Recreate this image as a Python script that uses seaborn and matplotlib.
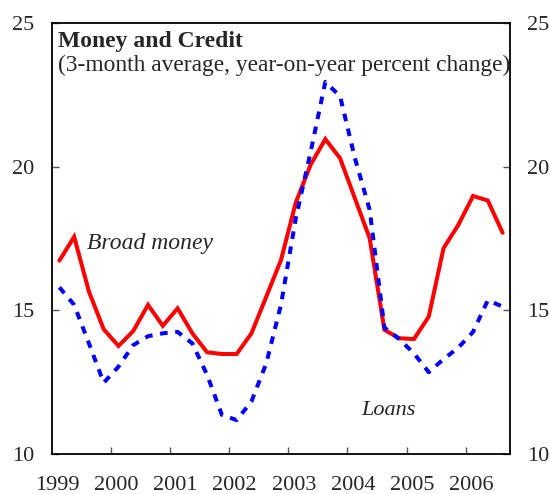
import numpy as np
import pandas as pd
import matplotlib
matplotlib.use("Agg")
import matplotlib.pyplot as plt
import seaborn as sns

# Quarterly data, 1999Q1 - 2006Q3
quarters = pd.period_range("1999Q1", "2006Q3", freq="Q")
broad_money = [16.73, 17.56, 15.65, 14.34, 13.76, 14.28, 15.19, 14.46,
               15.07, 14.20, 13.54, 13.48, 13.48, 14.20, 15.47, 16.75,
               18.75, 20.06, 20.96, 20.29, 18.90, 17.51, 14.32, 14.03,
               14.00, 14.78, 17.16, 17.97, 18.98, 18.82, 17.70]
loans = [15.80, 15.19, 13.85, 12.48, 13.04, 13.79, 14.10, 14.20,
         14.25, 13.85, 12.75, 11.36, 11.18, 11.83, 13.15, 15.20,
         18.20, 20.50, 22.95, 22.45, 20.30, 18.50, 14.40, 14.00,
         13.50, 12.85, 13.30, 13.70, 14.25, 15.35, 15.13]
year_labels = ["1999", "2000", "2001", "2002", "2003", "2004", "2005", "2006"]
y_ticks = [10, 15, 20, 25]

xpos = np.array([q.year + (q.quarter - 0.5) / 4 for q in quarters])
df = pd.DataFrame({"x": xpos, "Broad money": broad_money, "Loans": loans})

sns.set_style("white")
plt.rcParams["font.family"] = ["Liberation Serif", "DejaVu Serif"]

fig = plt.figure(figsize=(5.5, 4.94), dpi=100)
ax = fig.add_axes([52 / 550, 1 - 454 / 494, 458 / 550, 431 / 494])

sns.lineplot(data=df, x="x", y="Broad money", ax=ax, color="#FF0000",
             linewidth=2.9, solid_joinstyle="miter")
sns.lineplot(data=df, x="x", y="Loans", ax=ax, color="#0000FF",
             linewidth=2.9, linestyle=(0, (1.9, 1.9)), dash_capstyle="butt")

ax.set_xlim(1999.0, 2006.75)
ax.set_ylim(10, 25)
ax.set_xlabel("")
ax.set_ylabel("")

# x tick marks at year boundaries, labels near year start
ax.set_xticks([int(y) for y in year_labels[1:]], minor=True)
ax.set_xticks([int(y) + 0.09 for y in year_labels])
ax.set_xticklabels(year_labels)
ax.tick_params(axis="x", which="major", length=0, pad=15.5, labelsize=16)
ax.tick_params(axis="x", which="minor", length=5, width=1, direction="in",
               bottom=True, color="#555555")

ax.set_yticks(y_ticks)
ax.tick_params(axis="y", which="major", direction="in", length=5, width=1,
               left=True, right=True, labelleft=True, labelright=True,
               pad=12.5, labelsize=16, color="#555555")

for s in ax.spines.values():
    s.set_visible(True)
    s.set_color("black")
    s.set_linewidth(1.3)

fig.text(58 / 550, 1 - 46.5 / 494, "Money and Credit", fontsize=17,
         fontweight="bold", va="baseline", ha="left")
fig.text(58 / 550, 1 - 71 / 494, "(3-month average, year-on-year percent change)",
         fontsize=16.8, va="baseline", ha="left")
fig.text(87 / 550, 1 - 249 / 494, "Broad money", fontsize=17,
         style="italic", va="baseline", ha="left")
fig.text(361 / 550, 1 - 415 / 494, "Loans", fontsize=16,
         style="italic", va="baseline", ha="left")

fig.savefig("out.png", dpi=100)
